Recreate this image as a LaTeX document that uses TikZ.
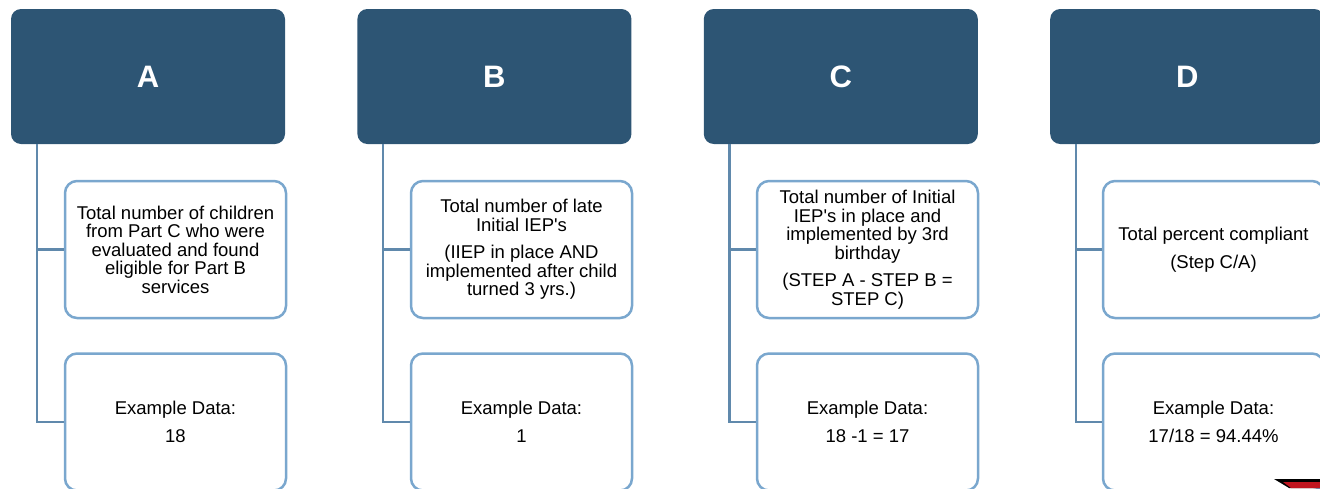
\documentclass[tikz,border=0pt]{standalone}
\usepackage{fontspec}
\setmainfont{Liberation Sans}[Ligatures=TeXOff]
\usepackage{xcolor}
\usepackage{tikz}
\usetikzlibrary{positioning}
\definecolor{headblue}{RGB}{45,85,116}
\definecolor{boxblue}{RGB}{122,167,206}
\definecolor{lineblue}{RGB}{96,137,172}
\definecolor{markred}{RGB}{192,22,32}

\begin{document}
\begin{tikzpicture}[
    x=1pt,y=-1pt,
    header/.style={rectangle,rounded corners=10pt,fill=headblue,text=white,minimum width=274pt,minimum height=135pt,inner sep=0pt,font=\fontsize{31}{31}\selectfont\bfseries},
    stepbox/.style={rectangle,rounded corners=12pt,draw=boxblue,fill=white,line width=2.5pt,minimum width=221pt,minimum height=137pt,inner sep=0pt,align=center,font=\fontsize{18.5}{18.5}\selectfont},
    link/.style={draw=lineblue,line width=2.5pt},
    node distance=72pt
]
    \useasboundingbox (0,0) rectangle (1320,488);
    \clip (0,0) rectangle (1320,488);

    \node[header] (hA) at (148,76.5) {A};
    \node[header,right=of hA] (hB) {B};
    \node[header,right=of hB] (hC) {C};
    \node[header,right=of hC] (hD) {D};

    \node[stepbox] (a1) at (175.5,249.5) {Total number of children\\from Part C who were\\evaluated and found\\eligible for Part B\\services};
    \node[stepbox] (a2) at (175.5,422) {Example Data:\\[9pt]18};
    \node[stepbox] (b1) at (521.5,249.5) {Total number of late\\Initial IEP's\\[9pt](IIEP in place AND\\implemented after child\\turned 3 yrs.)};
    \node[stepbox] (b2) at (521.5,422) {Example Data:\\[9pt]1};
    \node[stepbox] (c1) at (867.5,249.5) {Total number of Initial\\IEP's in place and\\implemented by 3rd\\birthday\\[9pt](STEP A - STEP B =\\STEP C)};
    \node[stepbox] (c2) at (867.5,422) {Example Data:\\[9pt]18 -1 = 17};
    \node[stepbox] (d1) at (1213.5,249.5) {Total percent compliant\\[9pt](Step C/A)};
    \node[stepbox] (d2) at (1213.5,422) {Example Data:\\[9pt]17/18 = 94.44\%};

    \draw[link] ([xshift=26pt]hA.south west) |- (a1.west);
    \draw[link] ([xshift=26pt]hA.south west) |- (a2.west);
    \draw[link] ([xshift=26pt]hB.south west) |- (b1.west);
    \draw[link] ([xshift=26pt]hB.south west) |- (b2.west);
    \draw[link] ([xshift=26pt]hC.south west) |- (c1.west);
    \draw[link] ([xshift=26pt]hC.south west) |- (c2.west);
    \draw[link] ([xshift=26pt]hD.south west) |- (d1.west);
    \draw[link] ([xshift=26pt]hD.south west) |- (d2.west);

    % corner mark
    \fill[black] (1274,479) -- (1320,479) -- (1320,488) -- (1289,488) -- cycle;
    \fill[markred] (1283,482) -- (1320,482) -- (1320,488) -- (1291,488) -- cycle;
\end{tikzpicture}
\end{document}
